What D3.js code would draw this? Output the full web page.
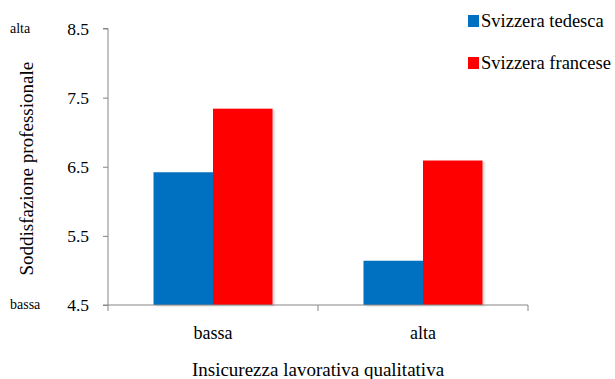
<!DOCTYPE html>
<html>
<head>
<meta charset="utf-8">
<script src="https://cdn.jsdelivr.net/npm/d3@7"></script>
<style>
  html, body { margin: 0; padding: 0; background: #fff; }
  svg { display: block; }
  text { font-family: "Liberation Serif", "Times New Roman", "DejaVu Serif", serif; fill: #000; }
</style>
</head>
<body>
<svg id="chart" width="615" height="379"></svg>
<script>
// Job satisfaction by qualitative job insecurity, German- vs French-speaking Switzerland
const categories = ["bassa", "alta"];
const seriesNames = ["Svizzera tedesca", "Svizzera francese"];
const seriesColors = ["#0070C0", "#FF0000"];
const tedescaValues = [6.42, 5.14];
const franceseValues = [7.34, 6.59];
const yTicks = [4.5, 5.5, 6.5, 7.5, 8.5];
const yTitle = "Soddisfazione professionale";
const xTitle = "Insicurezza lavorativa qualitativa";
const yEndLabels = [{ v: 8.5, t: "alta" }, { v: 4.5, t: "bassa" }];

const series = [tedescaValues, franceseValues];

const svg = d3.select("#chart");
const plotLeft = 108, plotRight = 528, plotTop = 28.5, plotBottom = 305;

const x = d3.scaleBand().domain(categories).range([plotLeft, plotRight])
  .paddingInner(0.4333).paddingOuter(0.2167);
const xs = d3.scaleBand().domain(d3.range(series.length)).range([0, x.bandwidth()]);
const y = d3.scaleLinear().domain([4.5, 8.5]).range([plotBottom, plotTop]);

// soft shadow behind bars
const defs = svg.append("defs");
const f = defs.append("filter").attr("id", "shadow")
  .attr("x", "-10%").attr("y", "-10%").attr("width", "130%").attr("height", "130%");
f.append("feDropShadow").attr("dx", 2).attr("dy", 1).attr("stdDeviation", 1.2)
  .attr("flood-color", "#000").attr("flood-opacity", 0.18);

// bars
const groups = svg.append("g").selectAll("g")
  .data(categories).join("g")
  .attr("transform", d => `translate(${x(d)},0)`);

groups.selectAll("rect")
  .data((c, i) => series.map((s, k) => ({ k, v: s[i] })))
  .join("rect")
  .attr("x", d => xs(d.k))
  .attr("width", xs.bandwidth())
  .attr("y", d => y(d.v))
  .attr("height", d => y(4.5) - y(d.v))
  .attr("fill", d => seriesColors[d.k])
  .attr("filter", "url(#shadow)");

// y axis
const yAxis = svg.append("g").attr("transform", `translate(${plotLeft},0)`)
  .call(d3.axisLeft(y).tickValues(yTicks).tickFormat(d3.format(".1f")).tickSize(5).tickPadding(14));
yAxis.attr("font-family", null);
yAxis.select(".domain").attr("stroke", "#868686").attr("d", `M-5,${plotTop}H0V${plotBottom}H-5`);
yAxis.selectAll(".tick line").attr("stroke", "#868686");
yAxis.selectAll(".tick text").attr("font-size", 17.5);

// x axis
const xAxis = svg.append("g").attr("transform", `translate(0,${plotBottom})`)
  .call(d3.axisBottom(x).tickSize(0).tickPadding(21));
xAxis.attr("font-family", null);
xAxis.select(".domain").attr("stroke", "#868686").attr("d", `M${plotLeft},6V0H${plotRight}V6`);
xAxis.selectAll(".tick text").attr("font-size", 18);
// boundary tick between categories
const midX = x(categories[1]) - x.step() * x.paddingInner() / 2;
xAxis.append("line")
  .attr("x1", midX).attr("x2", midX)
  .attr("y1", 0).attr("y2", 6).attr("stroke", "#868686");

// low/high labels next to the y scale
svg.append("g").selectAll("text").data(yEndLabels).join("text")
  .attr("x", 10).attr("y", d => y(d.v)).attr("dy", "0.32em")
  .attr("font-size", 14).text(d => d.t);

// axis titles
svg.append("text")
  .attr("transform", `translate(33,${(plotTop + plotBottom) / 2 + 2}) rotate(-90)`)
  .attr("text-anchor", "middle").attr("font-size", 19).text(yTitle);

svg.append("text")
  .attr("x", 318).attr("y", 376)
  .attr("text-anchor", "middle").attr("font-size", 19).text(xTitle);

// legend
const legend = svg.append("g").selectAll("g").data(seriesNames).join("g")
  .attr("transform", (d, i) => `translate(468,${21 + i * 42})`);
legend.append("rect").attr("x", 0).attr("y", -6).attr("width", 11).attr("height", 12)
  .attr("fill", (d, i) => seriesColors[i]);
legend.append("text").attr("x", 13).attr("dy", "0.32em").attr("font-size", 18.5).text(d => d);
</script>
</body>
</html>
